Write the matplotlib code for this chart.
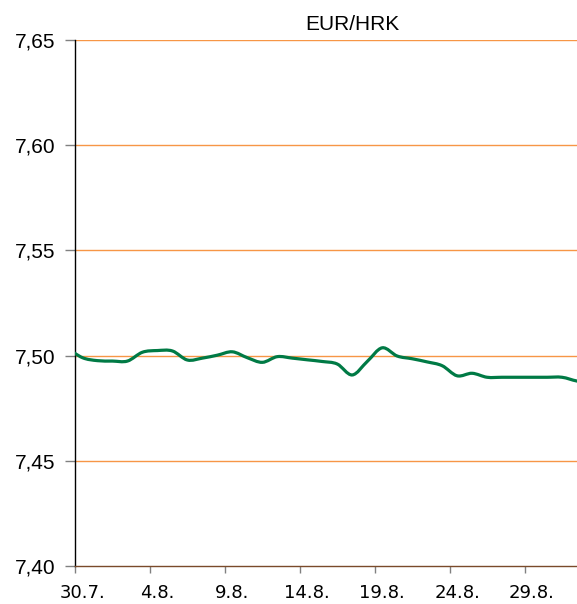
import numpy as np
import matplotlib
matplotlib.use("Agg")
import matplotlib.pyplot as plt
from matplotlib.path import Path
from matplotlib.patches import PathPatch

# day index from 30.7. (29.7. = -1, clipped by the axis) and EUR/HRK rate
days = list(range(-1, 35))
rate = [7.5035, 7.4990, 7.4976, 7.4974, 7.4974, 7.5016, 7.5024, 7.5022, 7.4979,
        7.4988, 7.5002, 7.5018, 7.4990, 7.4968, 7.4995, 7.4988, 7.4980, 7.4972,
        7.4960, 7.4908, 7.4972, 7.5037, 7.4998, 7.4985, 7.4970, 7.4952, 7.4904,
        7.4916, 7.4897, 7.4897, 7.4897, 7.4897, 7.4897, 7.4897, 7.4879, 7.4870]
label_days = [0, 5, 10, 15, 20, 25, 30]
tick_labels = ["30.7.", "4.8.", "9.8.", "14.8.", "19.8.", "24.8.", "29.8."]
y_ticks = [7.40, 7.45, 7.50, 7.55, 7.60, 7.65]


def smooth_path(x, y):
    # Catmull-Rom style bezier, like a spreadsheet "smoothed line"
    pts = np.column_stack([x, y]).astype(float)
    verts = [pts[0]]
    codes = [Path.MOVETO]
    n = len(pts)
    for i in range(n - 1):
        p0 = pts[max(i - 1, 0)]
        p1 = pts[i]
        p2 = pts[i + 1]
        p3 = pts[min(i + 2, n - 1)]
        c1 = p1 + (p2 - p0) / 6.0
        c2 = p2 - (p3 - p1) / 6.0
        verts += [c1, c2, p2]
        codes += [Path.CURVE4] * 3
    return Path(verts, codes)


fig = plt.figure(figsize=(5.77, 6.04), dpi=100)
ax = fig.add_axes([75 / 577, 1 - 566 / 604, 1 - 75 / 577, (566 - 40) / 604])

# points sit in the middle of each day's slot
xs = [d + 0.5 for d in days]
ax.add_patch(PathPatch(smooth_path(xs, rate), facecolor="none",
                       edgecolor="#007a45", lw=2.3, capstyle="round", zorder=3))

ax.set_xlim(0, 33.5)
ax.set_ylim(7.40, 7.65)

ax.set_yticks(y_ticks)
ax.set_yticklabels([("%.2f" % v).replace(".", ",") for v in y_ticks],
                   fontfamily="Liberation Sans", fontsize=15)

# tick marks between days, labels centred on the day
ax.set_xticks(label_days)
ax.set_xticklabels([])
ax.set_xticks([d + 0.5 for d in label_days], minor=True)
ax.set_xticklabels(tick_labels, minor=True, fontfamily="DejaVu Sans", fontsize=13)

for v in y_ticks[1:]:
    ax.axhline(v, color="#f79646", lw=1.0, zorder=1)

ax.tick_params(axis="y", direction="out", length=7, width=1, color="#808080", pad=7)
ax.tick_params(axis="x", which="major", direction="out", length=5, width=1, color="#808080")
ax.tick_params(axis="x", which="minor", length=0, pad=13)

for s in ["top", "right"]:
    ax.spines[s].set_visible(False)
ax.spines["left"].set_color("black")
ax.spines["left"].set_linewidth(1.0)
ax.spines["bottom"].set_color("#7a4a2a")
ax.spines["bottom"].set_linewidth(1.0)

fig.text(352 / 577, 1 - 25 / 604, "EUR/HRK", ha="center", va="center",
         fontfamily="Liberation Sans", fontsize=15)

fig.savefig("out.png", dpi=100)
